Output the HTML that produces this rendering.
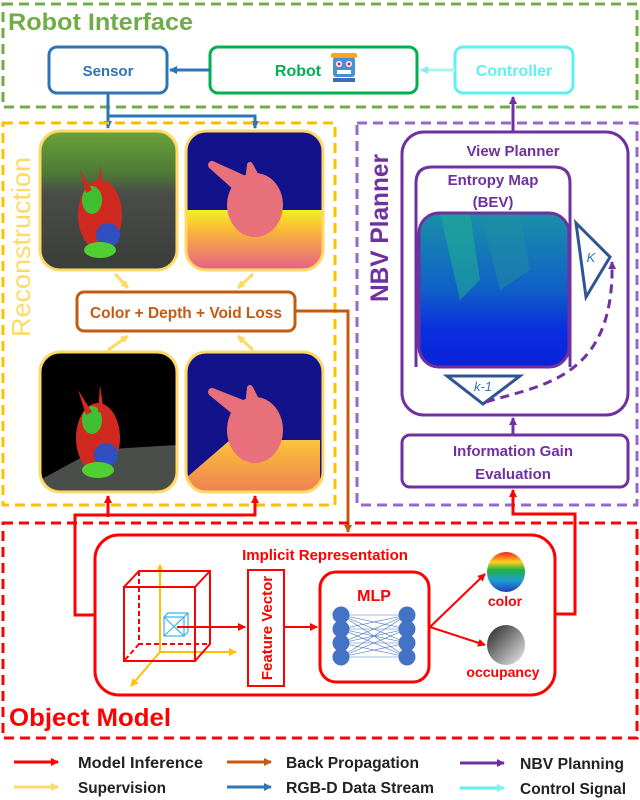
<!DOCTYPE html>
<html><head><meta charset="utf-8"><style>
html,body{margin:0;padding:0;background:#fff;}
svg{display:block;font-family:"Liberation Sans",sans-serif;font-weight:bold;}
</style></head><body>
<svg width="640" height="800" viewBox="0 0 640 800" xmlns="http://www.w3.org/2000/svg">
<defs>
<marker id="aB" markerWidth="8" markerHeight="8" refX="7" refY="4" orient="auto" markerUnits="userSpaceOnUse"><path d="M0,0L8,4L0,8z" fill="#2e75b6"/></marker>
<marker id="aC" markerWidth="8" markerHeight="8" refX="7" refY="4" orient="auto" markerUnits="userSpaceOnUse"><path d="M0,0L8,4L0,8z" fill="#7ff0f0"/></marker>
<marker id="aP" markerWidth="8" markerHeight="8" refX="7" refY="4" orient="auto" markerUnits="userSpaceOnUse"><path d="M0,0L8,4L0,8z" fill="#7030a0"/></marker>
<marker id="aR" markerWidth="8" markerHeight="8" refX="7" refY="4" orient="auto" markerUnits="userSpaceOnUse"><path d="M0,0L8,4L0,8z" fill="#ff0000"/></marker>
<marker id="aY" markerWidth="8" markerHeight="8" refX="7" refY="4" orient="auto" markerUnits="userSpaceOnUse"><path d="M0,0L8,4L0,8z" fill="#ffd966"/></marker>
<marker id="aO" markerWidth="8" markerHeight="8" refX="7" refY="4" orient="auto" markerUnits="userSpaceOnUse"><path d="M0,0L8,4L0,8z" fill="#c55a11"/></marker>
<marker id="aA" markerWidth="8" markerHeight="8" refX="7" refY="4" orient="auto" markerUnits="userSpaceOnUse"><path d="M0,0L8,4L0,8z" fill="#ffc000"/></marker>
<marker id="aPd" markerWidth="8" markerHeight="8" refX="7" refY="4" orient="auto" markerUnits="userSpaceOnUse"><path d="M0,0L8,4L0,8z" fill="#7030a0"/></marker>
<clipPath id="c1"><rect x="40" y="131" width="137" height="139" rx="20"/></clipPath>
<clipPath id="c2"><rect x="186" y="131" width="137" height="139" rx="20"/></clipPath>
<clipPath id="c3"><rect x="40" y="352" width="137" height="140" rx="20"/></clipPath>
<clipPath id="c4"><rect x="186" y="352" width="137" height="140" rx="20"/></clipPath>
<clipPath id="c5"><rect x="419" y="213" width="150" height="154" rx="20"/></clipPath>
<linearGradient id="g1" x1="0" y1="0" x2="0" y2="1"><stop offset="0" stop-color="#6aa43a"/><stop offset="0.3" stop-color="#4f7a36"/><stop offset="0.45" stop-color="#4a4c48"/><stop offset="1" stop-color="#3a3e3a"/></linearGradient>
<linearGradient id="g2" x1="0" y1="0" x2="0" y2="1"><stop offset="0" stop-color="#f5f020"/><stop offset="0.35" stop-color="#f9b53a"/><stop offset="1" stop-color="#e5608a"/></linearGradient>
<linearGradient id="g3" x1="0" y1="0" x2="0" y2="1"><stop offset="0" stop-color="#fbc43a"/><stop offset="1" stop-color="#ef8050"/></linearGradient>
<linearGradient id="g5" x1="0" y1="0" x2="0" y2="1"><stop offset="0" stop-color="#1a90a8"/><stop offset="0.5" stop-color="#1060c8"/><stop offset="0.75" stop-color="#0a2fe0"/><stop offset="1" stop-color="#0a22d8"/></linearGradient>
<linearGradient id="gc" x1="0" y1="0" x2="0" y2="1"><stop offset="0" stop-color="#ff2020"/><stop offset="0.25" stop-color="#ffd020"/><stop offset="0.45" stop-color="#20b040"/><stop offset="0.7" stop-color="#20a0d0"/><stop offset="1" stop-color="#2040c0"/></linearGradient>
<linearGradient id="go" x1="0" y1="0" x2="1" y2="1"><stop offset="0" stop-color="#222"/><stop offset="1" stop-color="#eee"/></linearGradient>
</defs>

<!-- Robot Interface -->
<rect x="3" y="4" width="634" height="103" fill="none" stroke="#70ad47" stroke-width="3" stroke-dasharray="10,6"/>
<text x="8" y="30" font-size="24" fill="#70ad47" textLength="185" lengthAdjust="spacingAndGlyphs">Robot Interface</text>
<rect x="49" y="47" width="118" height="46" rx="8" fill="#fff" stroke="#2e75b6" stroke-width="3"/>
<text x="108" y="76" font-size="15" fill="#2e75b6" text-anchor="middle">Sensor</text>
<rect x="210" y="47" width="207" height="46" rx="8" fill="#fff" stroke="#00b050" stroke-width="3"/>
<text x="298" y="76" font-size="16" fill="#00b050" text-anchor="middle">Robot</text>
<g>
<rect x="333" y="57" width="22" height="20" rx="3" fill="#4a90d9"/>
<rect x="331" y="53" width="26" height="5" rx="2" fill="#f5a623"/>
<circle cx="339" cy="64" r="3" fill="#fff"/><circle cx="349" cy="64" r="3" fill="#fff"/>
<circle cx="339" cy="64" r="1.5" fill="#e02020"/><circle cx="349" cy="64" r="1.5" fill="#e02020"/>
<rect x="337" y="70" width="14" height="4" fill="#fff"/>
<rect x="333" y="78" width="22" height="4" fill="#3a70b0"/>
</g>
<rect x="455" y="47" width="118" height="46" rx="8" fill="#fff" stroke="#5ff0f0" stroke-width="3"/>
<text x="514" y="76" font-size="16" fill="#5ff0f0" text-anchor="middle">Controller</text>
<line x1="210" y1="70" x2="170" y2="70" stroke="#2e75b6" stroke-width="3" marker-end="url(#aB)"/>
<line x1="455" y1="70" x2="421" y2="70" stroke="#a8f4f4" stroke-width="3" marker-end="url(#aC)"/>
<polyline points="108,93 108,116 255,116 255,128" fill="none" stroke="#2e75b6" stroke-width="3" marker-end="url(#aB)"/>
<line x1="108" y1="114" x2="108" y2="128" stroke="#2e75b6" stroke-width="3" marker-end="url(#aB)"/>
<line x1="513" y1="132" x2="513" y2="97" stroke="#7030a0" stroke-width="3" marker-end="url(#aP)"/>

<!-- Reconstruction -->
<rect x="3" y="123" width="332" height="382" fill="none" stroke="#ffc000" stroke-width="3" stroke-dasharray="10,6"/>
<text transform="translate(30,247) rotate(-90)" font-size="26" fill="#ffd966" text-anchor="middle" style="font-weight:normal" textLength="180" lengthAdjust="spacingAndGlyphs">Reconstruction</text>

<g clip-path="url(#c1)">
<rect x="40" y="131" width="137" height="139" fill="url(#g1)"/>
<ellipse cx="100" cy="215" rx="22" ry="35" fill="#d02a20"/>
<ellipse cx="92" cy="200" rx="10" ry="14" fill="#40c030"/>
<ellipse cx="108" cy="235" rx="12" ry="12" fill="#3050c0"/>
<ellipse cx="100" cy="250" rx="16" ry="8" fill="#50d030"/>
<path d="M80,170 L92,190 L86,193z M100,165 L104,190 L98,190z" fill="#d02a20"/>
</g>
<rect x="40" y="131" width="137" height="139" rx="20" fill="none" stroke="#ffd966" stroke-width="3"/>

<g clip-path="url(#c2)">
<rect x="186" y="131" width="137" height="139" fill="#12128a"/>
<rect x="186" y="210" width="137" height="60" fill="url(#g2)"/>
<ellipse cx="255" cy="205" rx="28" ry="32" fill="#e8707a"/>
<path d="M212,165 L245,180 L240,190 Z" fill="#e8707a" stroke="#e8707a" stroke-width="8" stroke-linejoin="round"/>
<path d="M250,165 L258,180 L248,182z" fill="#e8707a" stroke="#e8707a" stroke-width="6" stroke-linejoin="round"/>
</g>
<rect x="186" y="131" width="137" height="139" rx="20" fill="none" stroke="#ffd966" stroke-width="3"/>

<g clip-path="url(#c3)">
<rect x="40" y="352" width="137" height="140" fill="#000"/>
<path d="M40,480 L95,450 L177,445 L177,492 L40,492z" fill="#4a4e4a"/>
<ellipse cx="98" cy="438" rx="22" ry="35" fill="#d02a20"/>
<ellipse cx="92" cy="420" rx="10" ry="14" fill="#40c030"/>
<ellipse cx="106" cy="455" rx="12" ry="12" fill="#3050c0"/>
<ellipse cx="98" cy="470" rx="16" ry="8" fill="#50d030"/>
<path d="M78,390 L92,412 L86,415z M100,385 L104,412 L98,412z" fill="#d02a20"/>
</g>
<rect x="40" y="352" width="137" height="140" rx="20" fill="none" stroke="#ffd966" stroke-width="3"/>

<g clip-path="url(#c4)">
<rect x="186" y="352" width="137" height="140" fill="#12128a"/>
<path d="M186,478 L230,440 L320,440 L320,492 L186,492z" fill="url(#g3)"/>
<ellipse cx="255" cy="430" rx="28" ry="33" fill="#e8707a"/>
<path d="M212,392 L245,405 L240,415 Z" fill="#e8707a" stroke="#e8707a" stroke-width="8" stroke-linejoin="round"/>
<path d="M250,388 L258,404 L248,406z" fill="#e8707a" stroke="#e8707a" stroke-width="6" stroke-linejoin="round"/>
</g>
<rect x="186" y="352" width="137" height="140" rx="20" fill="none" stroke="#ffd966" stroke-width="3"/>

<line x1="115" y1="274" x2="128" y2="288" stroke="#ffd966" stroke-width="3" marker-end="url(#aY)"/>
<line x1="253" y1="274" x2="238" y2="288" stroke="#ffd966" stroke-width="3" marker-end="url(#aY)"/>
<line x1="108" y1="350" x2="128" y2="336" stroke="#ffd966" stroke-width="3" marker-end="url(#aY)"/>
<line x1="253" y1="350" x2="238" y2="336" stroke="#ffd966" stroke-width="3" marker-end="url(#aY)"/>
<rect x="77" y="292" width="218" height="39" rx="7" fill="#fff" stroke="#c55a11" stroke-width="3"/>
<text x="186" y="318" font-size="16" fill="#c55a11" text-anchor="middle" textLength="192" lengthAdjust="spacingAndGlyphs">Color + Depth + Void Loss</text>
<polyline points="295,311 348,311 348,532" fill="none" stroke="#c55a11" stroke-width="3" marker-end="url(#aO)"/>

<!-- NBV -->
<rect x="357" y="123" width="280" height="382" fill="none" stroke="#9966cc" stroke-width="3" stroke-dasharray="10,6"/>
<text transform="translate(388,228) rotate(-90)" font-size="25" fill="#7030a0" text-anchor="middle" textLength="148" lengthAdjust="spacingAndGlyphs">NBV Planner</text>
<rect x="402" y="132" width="226" height="283" rx="22" fill="#fff" stroke="#7030a0" stroke-width="3"/>
<text x="513" y="156" font-size="15" fill="#7030a0" text-anchor="middle">View Planner</text>
<path d="M416,367 L416,183 Q416,167 432,167 L554,167 Q570,167 570,183 L570,367" fill="none" stroke="#7030a0" stroke-width="3"/>
<text x="493" y="185" font-size="15" fill="#7030a0" text-anchor="middle">Entropy Map</text>
<text x="493" y="207" font-size="15" fill="#7030a0" text-anchor="middle">(BEV)</text>
<g clip-path="url(#c5)">
<rect x="419" y="213" width="150" height="154" fill="url(#g5)"/>
<path d="M440,213 L470,213 L480,280 L460,300 Z" fill="#20b090" opacity="0.55"/>
<path d="M480,213 L520,213 L530,270 L500,290 Z" fill="#2090a0" opacity="0.5"/>
</g>
<rect x="419" y="213" width="150" height="154" rx="20" fill="none" stroke="#7030a0" stroke-width="3"/>
<polygon points="576,223 610,257 586,297" fill="#fff" stroke="#2f5597" stroke-width="3"/>
<text x="591" y="262" font-size="13" fill="#2e75b6" font-style="italic" font-weight="normal" text-anchor="middle">K</text>
<polygon points="447,376 520,376 483,404" fill="#fff" stroke="#2f5597" stroke-width="3"/>
<text x="483" y="391" font-size="13" fill="#2e75b6" font-style="italic" font-weight="normal" text-anchor="middle">k-1</text>
<path d="M486,402 C540,385 615,380 612,262" fill="none" stroke="#7030a0" stroke-width="3" stroke-dasharray="9,6" marker-end="url(#aPd)"/>
<rect x="402" y="435" width="226" height="52" rx="8" fill="#fff" stroke="#7030a0" stroke-width="3"/>
<text x="513" y="456" font-size="15" fill="#7030a0" text-anchor="middle">Information Gain</text>
<text x="513" y="479" font-size="15" fill="#7030a0" text-anchor="middle">Evaluation</text>
<line x1="513" y1="435" x2="513" y2="418" stroke="#7030a0" stroke-width="3" marker-end="url(#aP)"/>

<!-- Object Model -->
<rect x="3" y="523" width="634" height="215" fill="none" stroke="#ff0000" stroke-width="3" stroke-dasharray="10,6"/>
<text x="9" y="726" font-size="25" fill="#ff0000" textLength="162" lengthAdjust="spacingAndGlyphs">Object Model</text>
<polyline points="95,615 75,615 75,515 255,515 255,496" fill="none" stroke="#ff0000" stroke-width="3" marker-end="url(#aR)"/>
<line x1="108" y1="517" x2="108" y2="496" stroke="#ff0000" stroke-width="3" marker-end="url(#aR)"/>
<polyline points="555,614 575,614 575,514 513,514 513,490" fill="none" stroke="#ff0000" stroke-width="3" marker-end="url(#aR)"/>
<rect x="95" y="535" width="460" height="160" rx="24" fill="#fff" stroke="#ff0000" stroke-width="3"/>
<text x="325" y="560" font-size="15" fill="#ff0000" text-anchor="middle">Implicit Representation</text>
<line x1="160" y1="652" x2="160" y2="565" stroke="#ffc000" stroke-width="2" marker-end="url(#aA)"/>
<line x1="160" y1="652" x2="236" y2="652" stroke="#ffc000" stroke-width="2" marker-end="url(#aA)"/>
<line x1="160" y1="652" x2="131" y2="686" stroke="#ffc000" stroke-width="2" marker-end="url(#aA)"/>
<g fill="none" stroke="#ff0000" stroke-width="2">
<rect x="124" y="587" width="71" height="74"/>
<path d="M124,587 L139,571 L210,571 L210,644 L195,661 M195,587 L210,571"/>
<path d="M139,571 L139,644 L210,644 M139,644 L124,661" stroke-dasharray="5,3"/>
</g>
<g fill="none" stroke="#3ab0f0" stroke-width="1.2">
<rect x="164" y="617" width="20" height="19"/><path d="M164,617 L168,613 L188,613 L188,632 L184,636 M184,617 L188,613 M164,636 L184,617 M164,617 L184,636"/>
</g>
<line x1="177" y1="627" x2="245" y2="627" stroke="#ff0000" stroke-width="2" marker-end="url(#aR)"/>
<rect x="248" y="570" width="36" height="116" fill="#fff" stroke="#ff0000" stroke-width="2"/>
<text transform="translate(272,628) rotate(-90)" font-size="15" fill="#ff0000" text-anchor="middle">Feature Vector</text>
<line x1="284" y1="627" x2="317" y2="627" stroke="#ff0000" stroke-width="2" marker-end="url(#aR)"/>
<rect x="320" y="572" width="109" height="110" rx="16" fill="#fff" stroke="#ff0000" stroke-width="3"/>
<text x="374" y="601" font-size="16" fill="#ff0000" text-anchor="middle">MLP</text>
<g stroke="#4472c4" stroke-width="0.6">
<line x1="341" y1="615" x2="407" y2="629"/><line x1="341" y1="615" x2="407" y2="643"/><line x1="341" y1="615" x2="407" y2="657"/><line x1="341" y1="615" x2="407" y2="615"/>
<line x1="341" y1="629" x2="407" y2="615"/><line x1="341" y1="629" x2="407" y2="643"/><line x1="341" y1="629" x2="407" y2="657"/><line x1="341" y1="629" x2="407" y2="629"/>
<line x1="341" y1="643" x2="407" y2="615"/><line x1="341" y1="643" x2="407" y2="629"/><line x1="341" y1="643" x2="407" y2="657"/><line x1="341" y1="643" x2="407" y2="643"/>
<line x1="341" y1="657" x2="407" y2="615"/><line x1="341" y1="657" x2="407" y2="629"/><line x1="341" y1="657" x2="407" y2="643"/><line x1="341" y1="657" x2="407" y2="657"/>
</g>
<g fill="#4472c4">
<circle cx="341" cy="615" r="8.5"/><circle cx="341" cy="629" r="8.5"/><circle cx="341" cy="643" r="8.5"/><circle cx="341" cy="657" r="8.5"/>
<circle cx="407" cy="615" r="8.5"/><circle cx="407" cy="629" r="8.5"/><circle cx="407" cy="643" r="8.5"/><circle cx="407" cy="657" r="8.5"/>
</g>
<line x1="430" y1="627" x2="485" y2="574" stroke="#ff0000" stroke-width="2" marker-end="url(#aR)"/>
<line x1="430" y1="627" x2="485" y2="645" stroke="#ff0000" stroke-width="2" marker-end="url(#aR)"/>
<ellipse cx="506" cy="572" rx="19" ry="20" fill="url(#gc)"/>
<text x="505" y="606" font-size="14" fill="#ff0000" text-anchor="middle">color</text>
<ellipse cx="506" cy="645" rx="19" ry="20" fill="url(#go)"/>
<text x="503" y="677" font-size="14" fill="#ff0000" text-anchor="middle">occupancy</text>

<!-- Legend -->
<g font-size="16" fill="#222">
<line x1="14" y1="762" x2="58" y2="762" stroke="#ff0000" stroke-width="3" marker-end="url(#aR)"/>
<text x="78" y="768" textLength="125" lengthAdjust="spacingAndGlyphs">Model Inference</text>
<line x1="14" y1="787" x2="58" y2="787" stroke="#ffd966" stroke-width="3" marker-end="url(#aY)"/>
<text x="78" y="793" textLength="88" lengthAdjust="spacingAndGlyphs">Supervision</text>
<line x1="227" y1="762" x2="271" y2="762" stroke="#c55a11" stroke-width="3" marker-end="url(#aO)"/>
<text x="286" y="768" textLength="133" lengthAdjust="spacingAndGlyphs">Back Propagation</text>
<line x1="227" y1="787" x2="271" y2="787" stroke="#2e75b6" stroke-width="3" marker-end="url(#aB)"/>
<text x="286" y="793" textLength="148" lengthAdjust="spacingAndGlyphs">RGB-D Data Stream</text>
<line x1="460" y1="763" x2="504" y2="763" stroke="#7030a0" stroke-width="3" marker-end="url(#aP)"/>
<text x="520" y="769" textLength="104" lengthAdjust="spacingAndGlyphs">NBV Planning</text>
<line x1="460" y1="788" x2="504" y2="788" stroke="#5ff0f0" stroke-width="3" marker-end="url(#aC)"/>
<text x="520" y="794" textLength="106" lengthAdjust="spacingAndGlyphs">Control Signal</text>
</g>
</svg>
</body></html>
